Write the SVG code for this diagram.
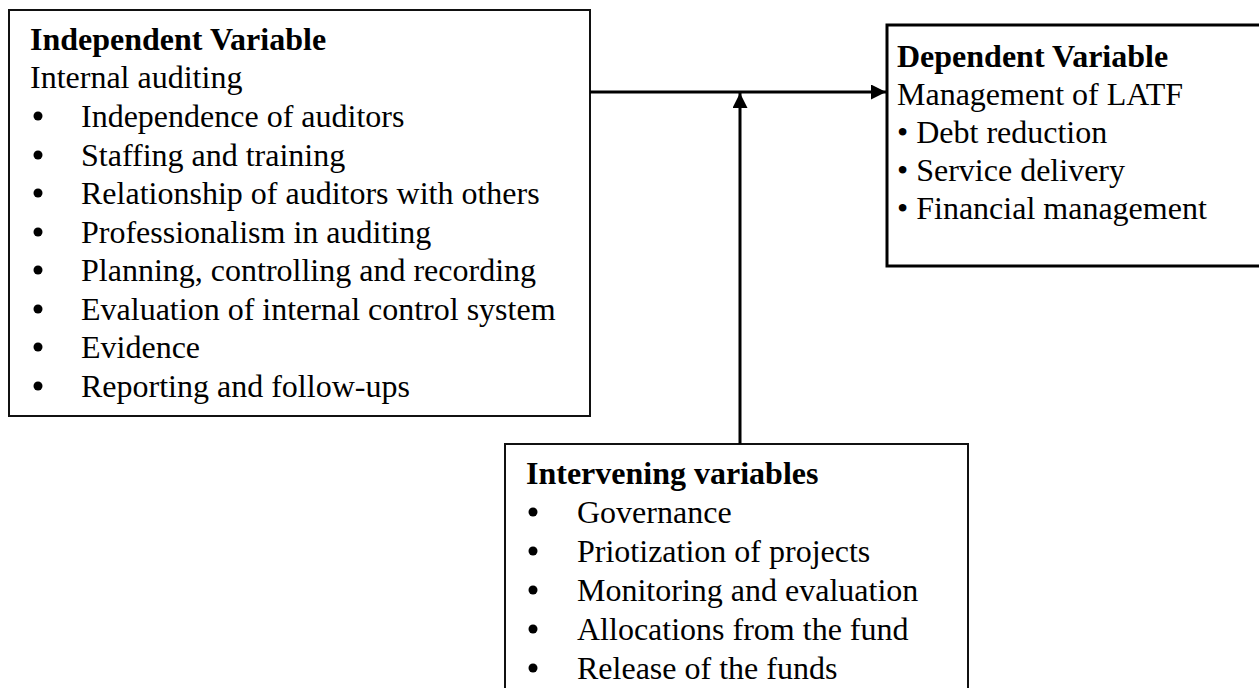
<svg xmlns="http://www.w3.org/2000/svg" width="1259" height="688" viewBox="0 0 1259 688">
<style>
text{font-family:"Liberation Serif","Times New Roman",serif;font-size:32px;fill:#000}
.b{font-weight:bold}
.box{fill:#fff;stroke:#111;stroke-width:2}
.boxk{fill:#fff;stroke:#000;stroke-width:3}
.ln{stroke:#000;stroke-width:3;fill:none}
</style>
<defs>
<marker id="ah" viewBox="0 0 10 10" refX="10" refY="5" markerWidth="5" markerHeight="5" markerUnits="strokeWidth" orient="auto">
<path d="M0,0 L10,5 L0,10 z" fill="#000"/>
</marker>
</defs>
<g id="independent">
<rect class="box" x="9" y="10" width="581" height="406"/>
<text class="b" x="30" y="50">Independent Variable</text>
<text x="30" y="88">Internal auditing</text>
<g>
<circle cx="38" cy="116" r="4.5"/><text x="81" y="127">Independence of auditors</text>
<circle cx="38" cy="155" r="4.5"/><text x="81" y="166">Staffing and training</text>
<circle cx="38" cy="193" r="4.5"/><text x="81" y="204">Relationship of auditors with others</text>
<circle cx="38" cy="232" r="4.5"/><text x="81" y="243">Professionalism in auditing</text>
<circle cx="38" cy="270" r="4.5"/><text x="81" y="281">Planning, controlling and recording</text>
<circle cx="38" cy="309" r="4.5"/><text x="81" y="320">Evaluation of internal control system</text>
<circle cx="38" cy="347" r="4.5"/><text x="81" y="358">Evidence</text>
<circle cx="38" cy="386" r="4.5"/><text x="81" y="397">Reporting and follow-ups</text>
</g>
</g>
<g id="dependent">
<rect class="boxk" x="887" y="25" width="380" height="241"/>
<text class="b" x="897" y="67">Dependent Variable</text>
<text x="897" y="105">Management of LATF</text>
<text x="897" y="143">• Debt reduction</text>
<text x="897" y="181">• Service delivery</text>
<text x="897" y="219">• Financial management</text>
</g>
<g id="intervening">
<rect class="box" x="505" y="444" width="463" height="260"/>
<text class="b" x="526" y="484">Intervening variables</text>
<circle cx="533" cy="512" r="4.5"/><text x="577" y="523">Governance</text>
<circle cx="533" cy="551" r="4.5"/><text x="577" y="562">Priotization of projects</text>
<circle cx="533" cy="590" r="4.5"/><text x="577" y="601">Monitoring and evaluation</text>
<circle cx="533" cy="629" r="4.5"/><text x="577" y="640">Allocations from the fund</text>
<circle cx="533" cy="668" r="4.5"/><text x="577" y="679">Release of the funds</text>
</g>
<g id="connectors">
<line class="ln" x1="590" y1="92" x2="886" y2="92" marker-end="url(#ah)"/>
<line class="ln" x1="740" y1="444" x2="740" y2="93" marker-end="url(#ah)"/>
</g>
</svg>
